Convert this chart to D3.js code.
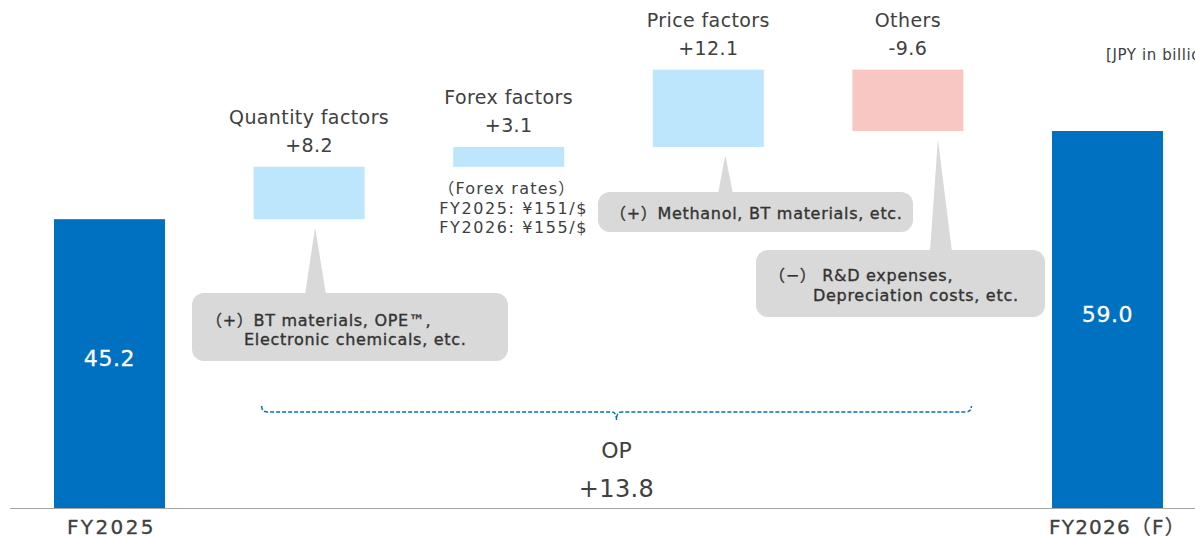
<!DOCTYPE html>
<html>
<head>
<meta charset="utf-8">
<script src="https://cdn.jsdelivr.net/npm/d3@7"></script>
<style>
  body { margin: 0; background: #fff; }
  text { font-family: "DejaVu Sans", "Noto Sans CJK JP", sans-serif; }
</style>
</head>
<body>
<script>
        //chart data
        var categories = ["FY2025", "Quantity factors", "Forex factors", "Price factors", "Others", "FY2026（F）"]
        var values = [45.2, 8.2, 3.1, 12.1, -9.6, 59.0]
        var kinds = ["total", "delta", "delta", "delta", "delta", "total"]
        var forexLines = ["（Forex rates）", "FY2025: ¥151/$", "FY2026: ¥155/$"]
        var unitLabel = "[JPY in billions]"

        //callout notes, index = which bar the pointer goes to
        var notes = [
            {bar: 1, lines: ["（+）BT materials, OPE™,", "Electronic chemicals, etc."]},
            {bar: 3, lines: ["（+）Methanol, BT materials, etc."]},
            {bar: 4, lines: ["（−） R&D expenses,", "Depreciation costs, etc."]}
        ]

        var width = 1195
        var height = 539
        var textCol = "#404040"

        var svg = d3.select("body")
            .append("svg")
            .attr("width", width)
            .attr("height", height);

        //work out start/end of each bar (waterfall)
        var bars = []
        var running = 0
        for (var i = 0; i < categories.length; i++) {
            if (kinds[i] == "total") {
                bars.push({name: categories[i], v: values[i], y0: 0, y1: values[i], kind: "total"})
                running = values[i]
            } else {
                bars.push({name: categories[i], v: values[i], y0: running, y1: running + values[i], kind: values[i] >= 0 ? "up" : "down"})
                running = running + values[i]
            }
        }

        var x = d3.scaleBand()
            .domain(categories)
            .range([54, 1163])
            .paddingInner(0.444)
            .paddingOuter(0)

        var y = d3.scaleLinear()
            .domain([0, 59])
            .range([508, 131])

        var colors = {total: "#0070c0", up: "#bde5fc", down: "#f8c6c3"}

        svg.selectAll("rect.bar")
            .data(bars)
            .enter()
            .append("rect")
            .attr("class", "bar")
            .attr("x", function(d) { return x(d.name) })
            .attr("y", function(d) { return y(Math.max(d.y0, d.y1)) })
            .attr("width", x.bandwidth())
            .attr("height", function(d) { return Math.abs(y(d.y0) - y(d.y1)) })
            .attr("fill", function(d) { return colors[d.kind] })

        //baseline
        svg.append("line")
            .attr("x1", 10).attr("x2", width)
            .attr("y1", y(0) + 0.5).attr("y2", y(0) + 0.5)
            .attr("stroke", "#a6a6a6")
            .attr("stroke-width", 1.2)

        //x axis labels under the two total bars
        var totals = bars.filter(function(d) { return d.kind == "total" })
        svg.selectAll("text.cat")
            .data(totals)
            .enter()
            .append("text")
            .attr("x", function(d, i) { return x(d.name) + x.bandwidth() / 2 + (i == 1 ? 10 : 2) })
            .attr("y", 534)
            .attr("text-anchor", "middle")
            .attr("font-size", 20)
            .attr("letter-spacing", function(d, i) { return i == 1 ? 1.2 : 2.4 })
            .attr("fill", textCol)
            .attr("stroke", textCol)
            .attr("stroke-width", 0.3)
            .text(function(d) { return d.name })

        //white value inside totals
        svg.selectAll("text.tot")
            .data(totals)
            .enter()
            .append("text")
            .attr("x", function(d) { return x(d.name) + x.bandwidth() / 2 })
            .attr("y", function(d) { return (y(0) + y(d.y1)) / 2 + 2 })
            .attr("text-anchor", "middle")
            .attr("font-size", 22)
            .attr("letter-spacing", 0.6)
            .attr("fill", "#fff")
            .attr("stroke", "#fff")
            .attr("stroke-width", 0.3)
            .text(function(d) { return d.v.toFixed(1) })

        //names + values above the floating bars
        var deltas = bars.filter(function(d) { return d.kind != "total" })
        var fmt = d3.format("+.1f")
        deltas.forEach(function(d) {
            var cx = x(d.name) + x.bandwidth() / 2
            var top = y(Math.max(d.y0, d.y1))
            svg.append("text")
                .attr("x", cx).attr("y", top - 43)
                .attr("text-anchor", "middle")
                .attr("font-size", 19)
                .attr("letter-spacing", 0.4)
                .attr("fill", textCol)
                .text(d.name)
            svg.append("text")
                .attr("x", cx).attr("y", top - 15)
                .attr("text-anchor", "middle")
                .attr("font-size", 19)
                .attr("letter-spacing", 0.4)
                .attr("fill", textCol)
                .text(d.v < 0 ? String(d.v.toFixed(1)) : fmt(d.v))
        })

        //forex rates note under the forex bar
        var fx = bars[2]
        svg.selectAll("text.fx")
            .data(forexLines)
            .enter()
            .append("text")
            .attr("x", function(d, i) { return x(fx.name) - (i == 0 ? 15 : 14) })
            .attr("y", function(d, i) { return 194 + i * 19.5 })
            .attr("font-size", 16)
            .attr("letter-spacing", function(d, i) { return i == 0 ? 1.2 : 1.6 })
            .attr("fill", textCol)
            .text(function(d) { return d })

        //callouts - boxes placed by hand, pointer goes up to the bar
        var boxes = [
            {x: 192, y: 293, w: 316, h: 68, tipDx: 6, tipDy: 8, baseX: 305, baseW: 21, tx: [206, 244], ty: [326, 345]},
            {x: 598, y: 192, w: 315, h: 40, tipDx: 17, tipDy: 8, baseX: 718, baseW: 15, tx: [610], ty: [219]},
            {x: 756, y: 250, w: 289, h: 67, tipDx: 30, tipDy: 8, baseX: 930, baseW: 22, tx: [769, 813], ty: [281, 301]}
        ]

        notes.forEach(function(n, k) {
            var b = boxes[k]
            var d = bars[n.bar]
            var tipX = x(d.name) + x.bandwidth() / 2 + b.tipDx
            var tipY = y(Math.min(d.y0, d.y1)) + b.tipDy
            var g = svg.append("g")
            g.append("path")
                .attr("d", "M" + tipX + "," + tipY + "L" + (b.baseX + b.baseW) + "," + (b.y + 2) + "L" + b.baseX + "," + (b.y + 2) + "Z")
                .attr("fill", "#d9d9d9")
            g.append("rect")
                .attr("x", b.x).attr("y", b.y)
                .attr("width", b.w).attr("height", b.h)
                .attr("rx", 12)
                .attr("fill", "#d9d9d9")
            n.lines.forEach(function(line, j) {
                g.append("text")
                    .attr("x", b.tx[j]).attr("y", b.ty[j])
                    .attr("font-size", 16)
                    .attr("letter-spacing", 0.7)
                    .attr("fill", "#333")
                    .attr("stroke", "#333")
                    .attr("stroke-width", 0.35)
                    .text(line)
            })
        })

        //dashed brace for the total OP change
        var bx0 = x(categories[1]) + 8
        var bx1 = x(categories[4]) + x.bandwidth() + 8
        var bm = (bx0 + bx1) / 2
        var by = 412
        var brace = "M" + bx0 + "," + (by - 6) + "Q" + bx0 + "," + by + " " + (bx0 + 6) + "," + by +
            "L" + (bm - 5) + "," + by + "Q" + bm + "," + by + " " + bm + "," + (by + 8) +
            "Q" + bm + "," + by + " " + (bm + 5) + "," + by +
            "L" + (bx1 - 6) + "," + by + "Q" + bx1 + "," + by + " " + bx1 + "," + (by - 6)
        svg.append("path")
            .attr("d", brace)
            .attr("fill", "none")
            .attr("stroke", "#0070c0")
            .attr("stroke-width", 1.5)
            .attr("stroke-dasharray", "4,2")

        var opChange = values[5] - values[0]
        svg.append("text")
            .attr("x", bm).attr("y", 458)
            .attr("text-anchor", "middle")
            .attr("font-size", 22)
            .attr("fill", textCol)
            .text("OP")
        svg.append("text")
            .attr("x", bm).attr("y", 497)
            .attr("text-anchor", "middle")
            .attr("font-size", 24)
            .attr("letter-spacing", 0.4)
            .attr("fill", textCol)
            .text(fmt(opChange))

        //unit label, cut off by the right edge like the original
        svg.append("text")
            .attr("x", 1106).attr("y", 60)
            .attr("font-size", 15)
            .attr("letter-spacing", 0.6)
            .attr("fill", textCol)
            .text(unitLabel)
</script>
</body>
</html>
